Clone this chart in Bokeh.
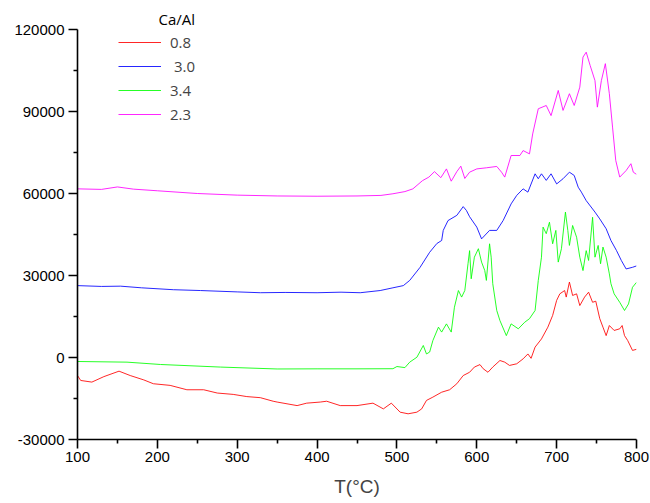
from bokeh.plotting import figure
from bokeh.models import Legend, LegendItem, FixedTicker, NumeralTickFormatter
from bokeh.embed import file_html
from bokeh.resources import INLINE

# ---- data ----
x_red = [100, 104, 118, 133, 152, 166, 183, 195, 216, 237, 258, 275, 295, 312, 329, 345,
         350, 375, 387, 404, 412, 429, 450, 470, 483, 493, 504, 514, 525, 531, 537, 545,
         556, 566, 575, 583, 591, 597, 604, 608, 614, 620, 629, 635, 641, 650, 658, 664,
         668, 673, 681, 689, 695, 700, 704, 710, 712, 716, 720, 725, 729, 735, 740, 745,
         749, 754, 758, 762, 766, 772, 779, 782, 785, 789, 795, 800]
y_red = [-6600, -8400, -9000, -7000, -5000, -6600, -8200, -9600, -10200, -11800, -11800, -13000,
         -13500, -14300, -14700, -16000, -16300, -17600, -16700, -16300, -16000, -17600, -17600,
         -16700, -18800, -16700, -20000, -20600, -20000, -18800, -15700, -14500, -12700, -11800,
         -9600, -6600, -5400, -3500, -2600, -4100, -5400, -3500, -1100, -1700, -2900, -2300,
         -500, 1300, -300, 3800, 6800, 11100, 15400, 20900, 23300, 24500, 22100, 27600, 22700,
         23300, 19000, 22100, 23900, 20200, 20600, 14200, 11100, 8000, 11700, 9900, 10500,
         11700, 8000, 6200, 2600, 3000]

x_blue = [100, 130, 154, 180, 220, 254, 300, 329, 360, 400, 430, 454, 479, 495, 508, 516,
          529, 541, 550, 556, 558, 564, 575, 583, 587, 591, 600, 606, 616, 625, 633, 643,
          650, 658, 664, 673, 677, 681, 687, 693, 700, 708, 716, 722, 727, 731, 737, 748,
          754, 762, 768, 775, 781, 787, 795, 800]
y_blue = [26300, 26000, 26100, 25500, 24800, 24500, 24000, 23700, 23800, 23700, 23900, 23700,
          24500, 25500, 26300, 28200, 33000, 38500, 41700, 42800, 46500, 50100, 52000, 55200,
          53800, 51500, 47700, 43400, 46500, 46500, 50100, 56200, 59300, 61700, 60500, 67200,
          65400, 67200, 64800, 67200, 63500, 65400, 67800, 66600, 62300, 60500, 57400, 53200,
          50700, 47100, 42800, 39100, 35500, 32400, 33000, 33500]

x_green = [100, 162, 204, 279, 350, 400, 450, 495, 500, 510, 516, 525, 533, 537, 541, 545,
           552, 556, 562, 568, 572, 577, 581, 585, 589, 591, 593, 597, 602, 606, 610, 612,
           616, 618, 620, 625, 629, 637, 643, 652, 660, 666, 673, 677, 681, 683, 687, 691,
           695, 699, 702, 706, 711, 714, 716, 720, 725, 729, 733, 737, 740, 745, 748, 752,
           755, 758, 762, 766, 768, 772, 779, 785, 790, 795, 800]
y_green = [-1460, -1700, -2560, -3500, -4200, -4150, -4150, -4100, -3300, -3700, -1700, 100,
           4400, 1300, 2000, 6200, 11100, 9300, 12300, 9300, 18400, 24500, 22100, 24500, 34300,
           39100, 28800, 36700, 39800, 34900, 31800, 28200, 41600, 36700, 27000, 17200, 13500,
           8000, 12300, 10500, 12900, 14200, 17200, 28200, 36700, 47700, 45300, 49500, 41600,
           46500, 34900, 39800, 53200, 46500, 41000, 48300, 44000, 36700, 31800, 39100, 35500,
           51300, 36700, 41000, 34300, 40400, 36700, 30600, 27000, 23300, 20200, 17200, 19600,
           25700, 27500]

x_mag = [100, 130, 150, 170, 200, 250, 300, 350, 400, 450, 480, 495, 510, 520, 532, 540,
         547, 555, 562, 568, 575, 580, 585, 591, 600, 612, 625, 631, 635, 643, 654, 658,
         666, 670, 677, 687, 693, 702, 708, 716, 722, 729, 733, 737, 742, 748, 751, 756,
         761, 766, 770, 774, 779, 787, 793, 796, 800]
y_mag = [61700, 61500, 62400, 61600, 61000, 60000, 59400, 59100, 59000, 59100, 59300, 59900,
         60700, 61700, 64700, 66000, 68000, 65800, 69000, 64500, 68000, 70000, 65500, 67800,
         69000, 69400, 69900, 67800, 66000, 73900, 73900, 75700, 74500, 81800, 91000, 92200,
         88500, 97700, 90400, 96500, 92200, 98900, 109900, 111700, 106800, 101300, 91600,
         101300, 107500, 96500, 84300, 72100, 66000, 68400, 70900, 67800, 67000]

labels = ["0.8", " 3.0", "3.4", "2.3"]
colors = ["#FF0000", "#0000FF", "#00FF00", "#FF00FF"]
legend_title = "Ca/Al"
x_ticks = [100, 200, 300, 400, 500, 600, 700, 800]
y_ticks = [-30000, 0, 30000, 60000, 90000, 120000]

FONT = "Liberation Sans"
LFONT = "Open Sans"

p = figure(width=650, height=503, output_backend="svg", toolbar_location=None,
           x_range=(100, 800), y_range=(-30000, 120000),
           min_border_left=77, min_border_right=14, min_border_top=29, min_border_bottom=64)
p.outline_line_color = None
p.xgrid.visible = False
p.ygrid.visible = False
p.background_fill_color = "white"
p.border_fill_color = "white"

# legend title placed as the (left-aligned, offset) plot title above the frame
p.title.text = legend_title
p.title.align = "left"
p.title.offset = 81
p.title.standoff = 1
p.title.text_font = LFONT
p.title.text_font_size = "15px"
p.title.text_font_style = "normal"
p.title.text_color = "black"

series = [(x_red, y_red), (x_blue, y_blue), (x_green, y_green), (x_mag, y_mag)]
renderers = []
for (xs, ys), c in zip(series, colors):
    r = p.line(xs, ys, line_color=c, line_width=1, line_alpha=0.85)
    renderers.append(r)

for ax in (p.xaxis[0], p.yaxis[0]):
    ax.axis_line_color = "black"
    ax.axis_line_width = 1.6
    ax.major_tick_line_color = "black"
    ax.major_tick_line_width = 1.6
    ax.minor_tick_line_color = "black"
    ax.minor_tick_line_width = 1.6
    ax.major_tick_out = 9
    ax.major_tick_in = 0
    ax.minor_tick_out = 4
    ax.minor_tick_in = 0
    ax.major_label_text_font = FONT
    ax.major_label_text_font_size = "15px"
    ax.major_label_text_color = "black"

p.xaxis[0].ticker = FixedTicker(ticks=x_ticks, minor_ticks=[150, 250, 350, 450, 550, 650, 750])
p.yaxis[0].ticker = FixedTicker(ticks=y_ticks,
                                minor_ticks=[-15000, 15000, 45000, 75000, 105000])
p.yaxis[0].formatter = NumeralTickFormatter(format="0")
p.xaxis[0].axis_label = "T(\u00b0C)"
p.xaxis[0].axis_label_text_font = FONT
p.xaxis[0].axis_label_text_font_style = "normal"
p.xaxis[0].axis_label_text_font_size = "19px"
p.xaxis[0].axis_label_standoff = 11
p.xaxis[0].major_label_standoff = 3
p.yaxis[0].major_label_standoff = 4

legend = Legend(items=[LegendItem(label=l, renderers=[r]) for l, r in zip(labels, renderers)],
                location=(41, 315), padding=3, spacing=4, glyph_width=43, glyph_height=20,
                label_height=20, label_standoff=9, label_text_font=LFONT,
                label_text_font_size="15px", border_line_color=None,
                background_fill_alpha=0, margin=0)
p.add_layout(legend, "center")

open("out.html", "w").write(file_html(p, INLINE))
